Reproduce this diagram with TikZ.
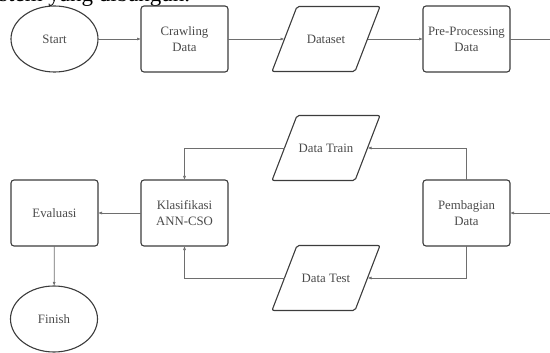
\documentclass[tikz,border=0pt]{standalone}
\usepackage{fontspec}
\setmainfont{Liberation Serif}
\usetikzlibrary{shapes.geometric,arrows.meta}
\definecolor{txt}{HTML}{4A4A4A}
\definecolor{edge}{HTML}{3C3C3C}
\definecolor{wire}{HTML}{6E6E6E}
\tikzset{
  base/.style={text=txt, align=center, outer sep=0pt, inner sep=0pt,
    font=\fontsize{12.8}{16}\selectfont},
  outline/.style={draw=edge, line width=1.1pt},
  procbox/.style={base, outline, rectangle, rounded corners=3pt, minimum width=87pt, minimum height=66pt},
  termbox/.style={base, outline, ellipse, minimum width=87pt, minimum height=66pt},
  iobox/.style={base, rectangle, minimum width=83pt, minimum height=65pt},
  ioframe/.style={outline, rounded corners=2pt},
  arr/.style={draw=wire, line width=0.7pt, -{Latex[length=4pt,width=3pt]}}
}
\begin{document}
\begin{tikzpicture}[x=1pt,y=-1pt]
\useasboundingbox (0,0) rectangle (550,353);
\node[anchor=base west, inner sep=0pt, text=black, font=\fontsize{23}{26}\selectfont] (head) at (-1,1.5) {stem yang dibangun.};
\node[termbox] (start) at (54.5,39) {Start};
\node[procbox] (crawl) at (184.5,39) {Crawling\\Data};
\node[iobox] (ds) at (326,39) {Dataset};
\node[procbox] (pre) at (466.5,39) {Pre-Processing\\Data};
\node[iobox] (train) at (326,148) {Data Train};
\node[procbox] (pemb) at (466.5,213) {Pembagian\\Data};
\node[procbox] (klas) at (184.5,213) {Klasifikasi\\ANN-CSO};
\node[procbox] (eval) at (54.5,213) {Evaluasi};
\node[iobox] (test) at (326,278) {Data Test};
\node[termbox] (finish) at (54,319) {Finish};
\foreach \n in {ds,train,test}{
  \draw[ioframe] ([xshift=12.5pt]\n.north west) -- ([xshift=12.5pt]\n.north east)
    -- ([xshift=-12.5pt]\n.south east) -- ([xshift=-12.5pt]\n.south west) -- cycle;
}
\coordinate (c1) at (553,39);
\draw[arr] (start) -- (crawl);
\draw[arr] (crawl) -- (ds);
\draw[arr] (ds) -- (pre);
\draw[arr] (pre.east) -- (c1) |- (pemb.east);
\draw[arr] (pemb.north) |- (train.east);
\draw[arr] (pemb.south) |- (test.east);
\draw[arr] (train.west) -| (klas.north);
\draw[arr] (test.west) -| (klas.south);
\draw[arr] (klas) -- (eval);
\draw[arr] (eval) -- (finish);
\end{tikzpicture}
\end{document}
